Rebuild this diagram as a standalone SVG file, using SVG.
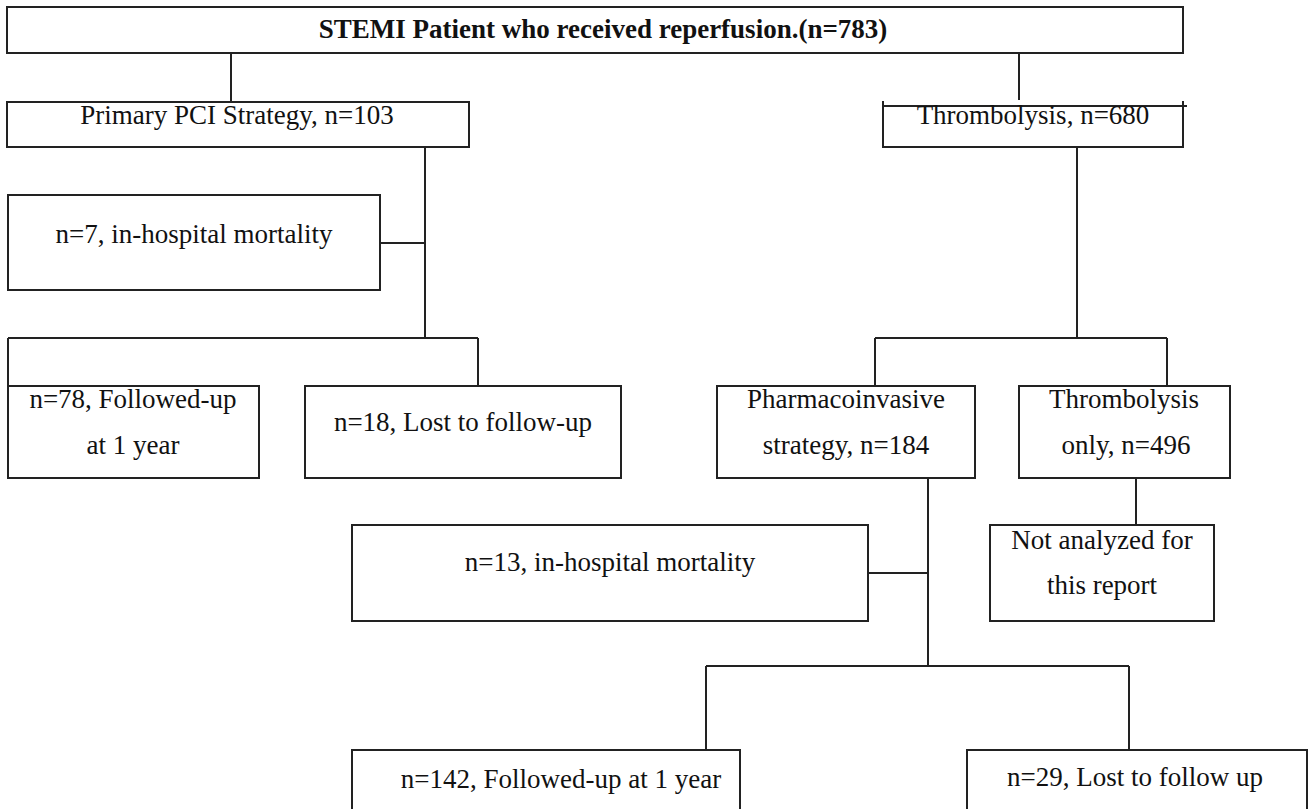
<svg xmlns="http://www.w3.org/2000/svg" width="1309" height="809" viewBox="0 0 1309 809">
<style>
.b{fill:#fff;stroke:#222;stroke-width:2}
.c{stroke:#222;stroke-width:2;fill:none}
text{font-family:"Liberation Serif","Times New Roman",serif;font-size:27px;fill:#111;text-anchor:middle}
.t{font-weight:bold}
</style>
<rect width="1309" height="809" fill="#fff"/>
<g id="connectors">
<path class="c" d="M231 53V102M1019 53V100M425 147V338M380 243H425M8 338H478M8 338V386M478 338V386M1077 147V338M875 338H1167M875 338V386M1167 338V386M1136 478V525M928 478V666M868 573H928M706 666H1129M706 666V750M1129 666V750"/>
</g>
<g id="top"><rect class="b" x="7" y="7" width="1176" height="46"/><text class="t" x="603" y="38">STEMI Patient who received reperfusion.(n=783)</text></g>
<g id="pci"><rect class="b" x="7" y="102" width="462" height="45"/><text x="237" y="124">Primary PCI Strategy, n=103</text></g>
<g id="thrombolysis"><path class="c" d="M883 101V147H1183V101M883 106H1187"/><text x="1033" y="124">Thrombolysis, n=680</text></g>
<g id="pci-mort"><rect class="b" x="8" y="195" width="372" height="95"/><text x="194" y="243">n=7, in-hospital mortality</text></g>
<g id="pci-fu"><rect class="b" x="8" y="386" width="251" height="92"/><text x="133" y="408">n=78, Followed-up</text><text x="133" y="454">at 1 year</text></g>
<g id="pci-lost"><rect class="b" x="305" y="386" width="316" height="92"/><text x="463" y="431">n=18, Lost to follow-up</text></g>
<g id="pharm"><rect class="b" x="717" y="386" width="258" height="92"/><text x="846" y="408">Pharmacoinvasive</text><text x="846" y="454">strategy, n=184</text></g>
<g id="thromb-only"><rect class="b" x="1019" y="386" width="211" height="92"/><text x="1124" y="408">Thrombolysis</text><text x="1126" y="454">only, n=496</text></g>
<g id="not-analyzed"><rect class="b" x="990" y="525" width="224" height="96"/><text x="1102" y="549">Not analyzed for</text><text x="1102" y="594">this report</text></g>
<g id="pharm-mort"><rect class="b" x="352" y="525" width="516" height="96"/><text x="610" y="571">n=13, in-hospital mortality</text></g>
<g id="pharm-fu"><rect class="b" x="352" y="750" width="388" height="70"/><text x="561" y="788">n=142, Followed-up at 1 year</text></g>
<g id="pharm-lost"><rect class="b" x="967" y="750" width="340" height="70"/><text x="1135" y="786">n=29, Lost to follow up</text></g>
</svg>
